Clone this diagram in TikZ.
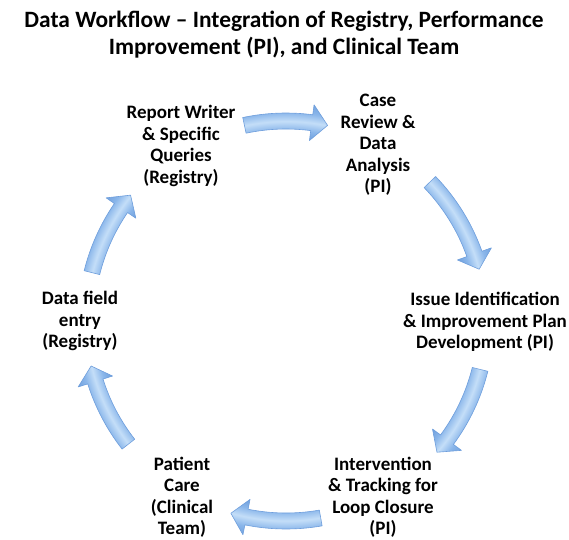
\documentclass[tikz,border=0pt]{standalone}
\usepackage{fontspec}
\setmainfont{Carlito}

\definecolor{flowdark}{RGB}{110,158,220}
\definecolor{flowmid}{RGB}{138,182,234}
\definecolor{flowlight}{RGB}{196,222,248}

% light-blue tube look for the cycle arrows (ring around the centre)
\pgfdeclareradialshading{flowtube}{\pgfpoint{0bp}{0bp}}{%
  color(0bp)=(flowdark); color(181bp)=(flowdark); color(190bp)=(flowmid);
  color(199bp)=(flowlight); color(208bp)=(flowmid); color(219bp)=(flowdark);
  color(232bp)=(flowdark)}

\tikzset{
  stagebox/.style={align=center, inner sep=0pt,
    font=\bfseries\fontsize{19}{21.5}\selectfont},
  flowarrow/.style={draw=flowdark, line width=0.6pt, line join=round,
    path picture={\node[inner sep=0pt] at (0,0) {\pgfuseshading{flowtube}};}}
}

\begin{document}
\begin{tikzpicture}[x=1pt,y=1pt]
  \useasboundingbox (-286,-218) rectangle (283,321);
  \coordinate (ctr) at (0,0);

  \node[align=center, inner sep=0pt, anchor=north,
    font=\bfseries\fontsize{23.4}{27}\selectfont] (title) at (-2,310)
    {Data Workflow -- Integration of Registry, Performance\\
     Improvement (PI), and Clinical Team};

  % the six stages round the cycle
  \node[stagebox] (report) at (-105,175) {Report Writer\\\& Specific\\Queries\\(Registry)};
  \node[stagebox] (review) at (92,176) {Case\\Review \&\\Data\\Analysis\\(PI)};
  \node[stagebox] (issue) at (199,-1) {Issue Identification\\\& Improvement Plan\\Development (PI)};
  \node[stagebox] (interv) at (97,-176) {Intervention\\\& Tracking for\\Loop Closure\\(PI)};
  \node[stagebox] (care) at (-104,-176) {Patient\\Care\\(Clinical\\Team)};
  \node[stagebox] (entry) at (-206,0) {Data field\\entry\\(Registry)};

  % block arrows on the circle, tail angle / tip angle, clockwise
  \foreach \tail/\tip in {102/78, 44/15, -14/-41, -80/-106, 218/193, 166/141} {
    \pgfmathsetmacro{\headbase}{\tip+4.6}
    \path[flowarrow] (\tail:208pt) arc[start angle=\tail, end angle=\headbase, radius=208pt]
      -- (\headbase:218pt) -- (\tip:200pt) -- (\headbase:182pt) -- (\headbase:192pt)
      arc[start angle=\headbase, end angle=\tail, radius=192pt] -- cycle;
  }
\end{tikzpicture}
\end{document}
